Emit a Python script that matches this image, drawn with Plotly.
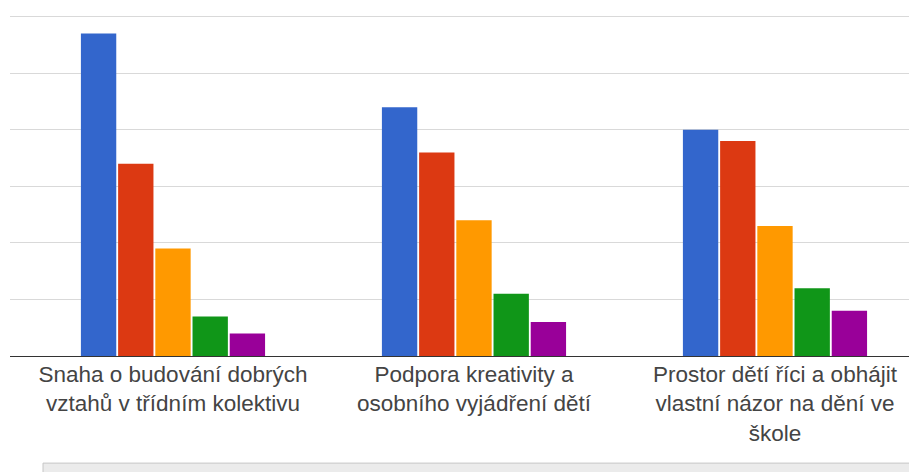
import plotly.graph_objects as go

categories = [
    "Snaha o budování dobrých<br>vztahů v třídním kolektivu",
    "Podpora kreativity a<br>osobního vyjádření dětí",
    "Prostor dětí říci a obhájit<br>vlastní názor na dění ve<br>škole",
]
series_names = ["1", "2", "3", "4", "5"]
series_values = [
    [57, 44, 40],
    [34, 36, 38],
    [19, 24, 23],
    [7, 11, 12],
    [4, 6, 8],
]
colors = ["#3366cc", "#dc3912", "#ff9900", "#109618", "#990099"]

fig = go.Figure()
for name, vals, c in zip(series_names, series_values, colors):
    fig.add_trace(go.Bar(x=categories, y=vals, name=name, marker=dict(color=c, line=dict(width=0))))

W, H = 917, 472
ytop = 61.0
px_per_unit = 339 / 60
plot_h = px_per_unit * ytop
ml, mr = 2, 0
mt = 17 - 8 - px_per_unit * (ytop - 60)
mb = H - mt - plot_h
plot_w = W - ml - mr
fig.update_layout(
    width=W, height=H,
    margin=dict(l=ml, r=mr, t=mt, b=mb, pad=0),
    paper_bgcolor="white", plot_bgcolor="white",
    barmode="group", bargap=0.382, bargroupgap=0.05,
    showlegend=False,
    font=dict(family="Liberation Sans, Arial, sans-serif", size=22.5, color="#444444"),
    xaxis=dict(
        range=[-0.5415, -0.5415 + plot_w / 301],
        showgrid=False, zeroline=False,
        showline=True, linecolor="#333333", linewidth=1,
        ticks="", ticklabelstandoff=-2,
        tickfont=dict(size=22.5, color="#444444"),
    ),
    yaxis=dict(
        range=[0, ytop], dtick=10,
        showgrid=True, gridcolor="#d9d9d9", gridwidth=1,
        zeroline=False, showticklabels=False, ticks="",
    ),
    shapes=[dict(
        type="rect", xref="paper", yref="paper",
        x0=33 / plot_w, x1=1.01,
        y0=-(472 - 356 + 10) / plot_h, y1=-(463 - 356) / plot_h,
        fillcolor="#ebebeb", line=dict(color="#c6c6c6", width=1), layer="above",
    )],
)

fig.write_html("out.html")
